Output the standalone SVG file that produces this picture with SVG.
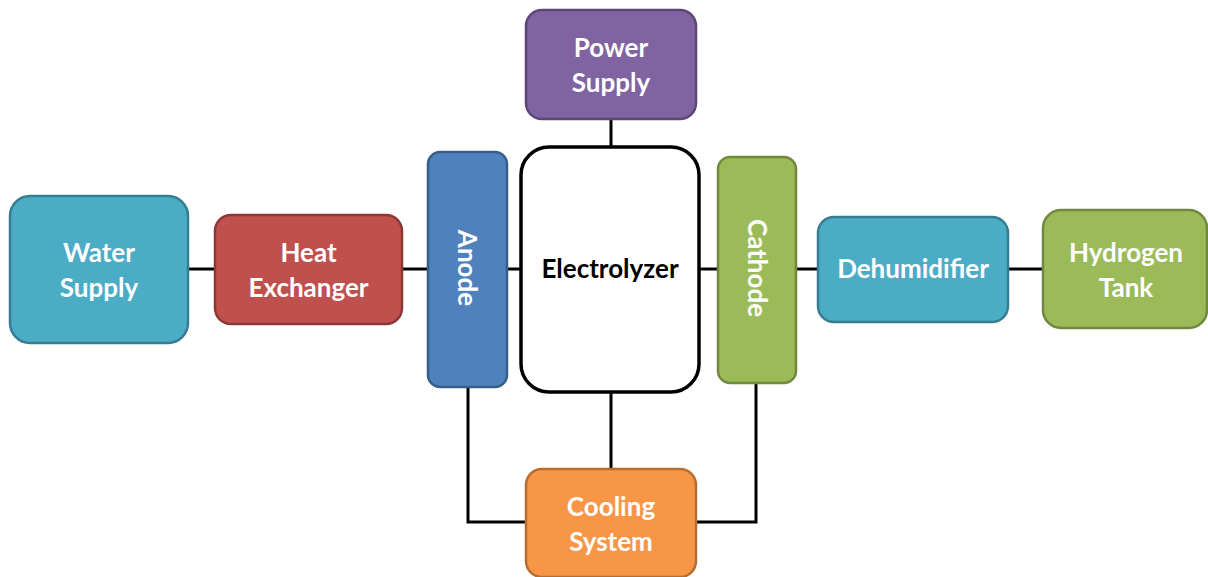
<svg xmlns="http://www.w3.org/2000/svg" width="1208" height="577" viewBox="0 0 1208 577">
<style>
.box{stroke-width:2.5}
.lbl{font-family:Lato,"Liberation Sans",sans-serif;font-weight:bold;font-size:26px;fill:#ffffff;text-anchor:middle}
.dark{fill:#000000}
.conn{stroke:#000000;stroke-width:3;fill:none}
</style>
<rect width="1208" height="577" fill="#ffffff"/>
<g id="connectors" class="conn">
<line x1="188" y1="269" x2="215" y2="269"/>
<line x1="402" y1="269" x2="428" y2="269"/>
<line x1="507" y1="269" x2="521" y2="269"/>
<line x1="699" y1="269" x2="718" y2="269"/>
<line x1="796" y1="269" x2="818" y2="269"/>
<line x1="1008" y1="269" x2="1043" y2="269"/>
<line x1="611" y1="119" x2="611" y2="147"/>
<line x1="611" y1="392" x2="611" y2="469"/>
<polyline points="468,387 468,522 526,522"/>
<polyline points="756,383 756,522 696,522"/>
</g>
<g id="water-supply">
<rect class="box" x="10" y="196" width="178" height="147" rx="20" fill="#4BACC6" stroke="#357D91"/>
<text class="lbl" x="99" y="262">Water</text>
<text class="lbl" x="99" y="297">Supply</text>
</g>
<g id="heat-exchanger">
<rect class="box" x="215" y="215" width="187" height="109" rx="16" fill="#C0504D" stroke="#8C3836"/>
<text class="lbl" x="308.5" y="262">Heat</text>
<text class="lbl" x="308.5" y="297">Exchanger</text>
</g>
<g id="anode">
<rect class="box" x="428" y="152" width="79" height="235" rx="12" fill="#4F81BD" stroke="#385D8A"/>
<text class="lbl" transform="translate(467,268) rotate(90)" x="0" y="9">Anode</text>
</g>
<g id="electrolyzer">
<rect x="521" y="147" width="178" height="245" rx="28" fill="#ffffff" stroke="#000000" stroke-width="3.5"/>
<text class="lbl dark" x="610" y="278">Electrolyzer</text>
</g>
<g id="cathode">
<rect class="box" x="718" y="157" width="78" height="226" rx="12" fill="#9BBB59" stroke="#71893F"/>
<text class="lbl" transform="translate(757,268) rotate(90)" x="0" y="9">Cathode</text>
</g>
<g id="dehumidifier">
<rect class="box" x="818" y="217" width="190" height="105" rx="16" fill="#4BACC6" stroke="#357D91"/>
<text class="lbl" x="913" y="278">Dehumidifier</text>
</g>
<g id="hydrogen-tank">
<rect class="box" x="1043" y="210" width="164" height="118" rx="18" fill="#9BBB59" stroke="#71893F"/>
<text class="lbl" x="1126" y="262">Hydrogen</text>
<text class="lbl" x="1126" y="297">Tank</text>
</g>
<g id="power-supply">
<rect class="box" x="526" y="10" width="170" height="109" rx="16" fill="#8064A2" stroke="#5C4776"/>
<text class="lbl" x="611" y="57">Power</text>
<text class="lbl" x="611" y="92">Supply</text>
</g>
<g id="cooling-system">
<rect class="box" x="526" y="469" width="170" height="108" rx="16" fill="#F79646" stroke="#B66D31"/>
<text class="lbl" x="611" y="516">Cooling</text>
<text class="lbl" x="611" y="551">System</text>
</g>
</svg>
